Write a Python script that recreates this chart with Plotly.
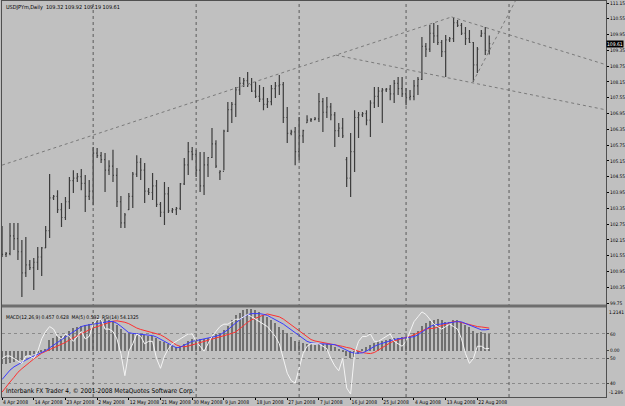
import datetime as dt
import plotly.graph_objects as go
from plotly.subplots import make_subplots

# ---- categories: trading days (Sun-Fri) from 4 Apr 2008 ----
start = dt.date(2008, 4, 4)
dates = []
d = start
while len(dates) < 124:
    if d.weekday() != 5:
        dates.append(d.strftime("%d %b %Y").lstrip("0"))
    d += dt.timedelta(days=1)

highs = [102.68,101.69,102.79,102.79,102.79,102.15,102.26,101.39,101.46,101.88,
         101.88,102.68,104.65,103.86,104.04,103.55,103.78,104.54,104.80,104.69,
         104.84,104.62,104.43,105.68,105.64,105.49,105.45,105.18,105.57,104.88,
         103.82,103.17,103.93,104.73,105.37,105.26,105.07,104.12,104.69,104.43,
         103.59,104.35,104.16,103.36,103.40,104.31,105.26,105.87,105.68,105.57,
         105.49,105.49,105.30,106.40,105.94,104.80,106.33,107.39,107.39,107.96,
         108.34,108.30,108.53,108.30,108.15,108.03,107.96,107.54,108.03,108.15,
         108.41,108.15,107.20,106.33,106.44,106.82,106.33,106.89,106.78,106.82,
         107.73,107.54,107.58,107.35,107.01,106.59,106.78,105.30,106.21,107.08,
         107.01,107.01,107.08,107.46,107.96,107.96,107.92,107.92,108.03,108.22,
         108.34,108.34,107.92,107.84,108.22,108.34,109.86,109.63,110.31,110.39,
         110.31,109.74,109.93,109.86,110.62,110.50,110.39,110.24,110.12,109.67,
         109.48,110.12,110.24,109.92]
lows = [101.50,101.50,101.57,101.77,101.39,99.98,100.74,101.01,100.25,101.01,
        100.78,101.84,102.22,103.67,103.17,102.64,102.91,103.32,103.93,104.35,
        104.04,103.21,103.67,103.47,105.26,105.07,103.97,104.62,104.35,103.40,
        102.60,102.60,103.29,103.36,104.54,104.43,103.55,103.86,103.67,103.40,
        103.02,102.72,103.17,103.17,103.10,103.29,104.24,104.62,105.18,104.54,
        103.97,103.86,104.54,105.26,104.88,104.43,104.80,106.25,106.59,106.82,
        107.65,107.96,107.96,107.77,107.54,107.39,107.08,107.16,107.27,107.54,
        107.65,106.59,105.83,106.13,104.99,105.18,105.83,106.59,106.63,106.70,
        106.63,106.25,106.78,106.70,105.68,106.06,106.02,104.16,103.78,104.73,
        106.02,106.82,106.51,106.06,107.16,107.20,106.59,107.77,107.46,107.35,
        107.65,107.58,107.27,107.46,107.46,107.65,108.22,109.10,109.29,109.63,
        109.55,109.10,108.34,109.67,109.67,110.24,109.93,109.55,109.63,108.15,
        108.49,109.86,109.17,109.19]
opens = [102.40,101.60,101.63,102.30,102.20,101.70,100.90,101.20,101.10,101.30,
         101.50,101.85,102.50,103.75,103.80,103.30,103.00,103.60,104.40,104.50,
         104.55,104.30,103.80,104.00,105.45,105.35,105.20,104.80,104.95,104.60,
         103.60,102.80,103.30,103.80,104.65,105.10,104.80,104.00,103.95,104.20,
         103.50,103.20,103.90,103.25,103.30,103.35,104.28,105.00,105.50,105.40,
         104.80,104.20,105.00,105.28,105.80,104.70,104.75,106.28,107.10,107.30,
         107.85,108.10,108.20,108.05,107.80,107.60,107.50,107.30,107.40,107.90,
         108.00,108.05,106.80,106.20,106.25,105.50,106.10,106.60,106.70,106.72,
         106.75,107.40,107.00,107.20,106.90,106.30,106.40,105.20,104.50,105.50,
         106.80,106.90,106.95,106.70,107.35,107.60,107.80,107.85,107.88,107.70,
         108.10,107.90,107.70,107.55,107.60,108.00,108.25,109.50,109.40,110.00,
         109.90,109.65,109.30,109.75,109.80,110.40,110.30,110.00,109.80,109.65,
         108.80,109.90,110.00,109.32]
closes = [101.60,101.63,102.30,102.20,101.70,100.90,101.20,101.10,101.30,101.50,
          101.85,102.50,103.75,103.80,103.30,103.00,103.60,104.40,104.50,104.55,
          104.30,103.80,104.00,105.45,105.35,105.20,104.80,104.95,104.60,103.60,
          102.80,103.10,103.80,104.65,105.10,104.80,104.00,103.95,104.20,103.50,
          103.20,103.90,103.25,103.30,103.35,104.28,105.00,105.50,105.40,104.80,
          104.20,105.00,105.28,105.80,104.95,104.75,106.28,107.10,107.30,107.85,
          108.10,108.20,108.05,107.80,107.60,107.50,107.30,107.40,107.90,108.00,
          108.05,106.80,106.20,106.25,105.50,106.10,106.30,106.70,106.72,106.75,
          107.40,107.00,107.20,106.90,106.30,106.40,106.10,104.50,105.50,106.80,
          106.90,106.95,106.70,107.35,107.60,107.80,107.85,107.88,107.70,108.10,
          107.90,107.70,107.55,107.60,108.00,108.25,109.50,109.40,110.00,109.90,
          109.65,109.30,109.75,109.80,110.40,110.30,110.00,109.80,109.65,108.80,
          109.40,110.00,109.35,109.61]

# ---- MACD window readings ----
macd_hist = [-0.38,-0.36,-0.33,-0.30,-0.28,-0.25,-0.15,-0.12,-0.10,-0.06,
             -0.02,0.05,0.30,0.36,0.40,0.42,0.45,0.55,0.62,0.66,
             0.70,0.72,0.74,0.80,0.86,0.89,0.88,0.86,0.82,0.72,
             0.60,0.50,0.48,0.47,0.48,0.47,0.44,0.42,0.40,0.34,
             0.28,0.24,0.18,0.14,0.10,0.12,0.20,0.28,0.32,0.33,
             0.32,0.33,0.36,0.42,0.46,0.50,0.58,0.70,0.85,0.98,
             1.06,1.12,1.16,1.15,1.12,1.08,1.00,0.94,0.86,0.78,
             0.66,0.58,0.48,0.38,0.28,0.25,0.22,0.20,0.18,0.17,
             0.20,0.20,0.18,0.16,0.10,0.04,-0.02,-0.15,-0.20,-0.18,
             -0.10,0.02,0.10,0.16,0.22,0.26,0.28,0.30,0.33,0.35,
             0.36,0.37,0.38,0.42,0.48,0.55,0.70,0.76,0.82,0.86,
             0.87,0.84,0.80,0.80,0.84,0.84,0.80,0.72,0.66,0.55,
             0.50,0.52,0.48,0.457]
macd_ma = [-0.80,-0.66,-0.54,-0.45,-0.38,-0.32,-0.26,-0.20,-0.15,-0.10,
           -0.06,0.00,0.08,0.16,0.24,0.32,0.38,0.45,0.52,0.60,
           0.67,0.70,0.72,0.74,0.76,0.78,0.80,0.81,0.81,0.76,
           0.68,0.58,0.50,0.48,0.47,0.46,0.45,0.44,0.42,0.38,
           0.32,0.26,0.20,0.13,0.08,0.10,0.15,0.22,0.26,0.28,
           0.30,0.32,0.34,0.37,0.40,0.44,0.50,0.58,0.68,0.78,
           0.86,0.94,1.00,1.03,1.04,1.03,1.01,0.98,0.92,0.85,
           0.80,0.74,0.66,0.56,0.48,0.40,0.32,0.26,0.22,0.20,
           0.19,0.19,0.18,0.18,0.17,0.12,0.06,0.01,-0.04,-0.07,
           -0.07,-0.06,-0.01,0.06,0.12,0.17,0.21,0.25,0.28,0.31,
           0.33,0.35,0.36,0.37,0.39,0.44,0.52,0.60,0.67,0.71,
           0.73,0.75,0.76,0.78,0.80,0.81,0.80,0.76,0.71,0.66,
           0.62,0.58,0.58,0.592]
macd_signal = [-1.15,-1.00,-0.87,-0.74,-0.60,-0.50,-0.40,-0.32,-0.23,-0.15,
               -0.07,-0.02,0.03,0.07,0.11,0.17,0.23,0.30,0.36,0.42,
               0.48,0.53,0.58,0.63,0.67,0.71,0.75,0.79,0.82,0.83,
               0.82,0.79,0.75,0.68,0.63,0.59,0.56,0.53,0.50,0.48,
               0.44,0.38,0.31,0.24,0.16,0.12,0.11,0.13,0.16,0.20,
               0.24,0.27,0.30,0.33,0.36,0.39,0.42,0.45,0.48,0.52,
               0.60,0.70,0.79,0.86,0.90,0.95,0.99,1.02,1.00,0.97,
               0.94,0.88,0.80,0.71,0.64,0.56,0.46,0.38,0.31,0.27,
               0.25,0.22,0.20,0.19,0.18,0.15,0.12,0.09,0.07,0.02,
               -0.02,-0.05,-0.07,-0.08,-0.05,0.02,0.09,0.16,0.22,0.27,
               0.31,0.35,0.37,0.39,0.44,0.50,0.56,0.60,0.62,0.62,
               0.66,0.70,0.74,0.78,0.81,0.81,0.78,0.76,0.72,0.69,
               0.67,0.66,0.64,0.628]
rsi = [50,51,51,50,49,48,51,51,50,53,
       58,61,63,62,59,58,60,59,57,59,
       61,58,59,64,66,66,62,62,61,58,
       52,43,53,56,60,59,56,57,57,50,
       46,51,54,56,57,58,59,60,60,57,
       55,53,56,59,61,63,64,64,65,66,
       66,67,68,67,66,65,64,63,61,59,
       56,50,44,41,40,46,52,55,56,56,
       56,55,54,50,47,45,50,38,35.5,52,
       57,59,59,60,57,57,58,59,60,57,
       56,55,57,61,65,67,69,68,66,64,
       63,62,63,64,63,62,58,52,48,50,
       55,55,54,54.13]

tick_labels = ["4 Apr 2008", "14 Apr 2008", "23 Apr 2008", "2 May 2008", "12 May 2008",
               "21 May 2008", "30 May 2008", "9 Jun 2008", "18 Jun 2008", "27 Jun 2008",
               "7 Jul 2008", "16 Jul 2008", "25 Jul 2008", "4 Aug 2008", "13 Aug 2008",
               "22 Aug 2008"]
separators = ["1 May 2008", "1 Jun 2008", "1 Jul 2008", "1 Aug 2008"]

# trendlines as (bar index, price) pairs
trend_lines = [
    [(0.0, 104.99), (113.5, 110.62)],
    [(84.3, 109.17), (152.8, 107.08)],
    [(113.5, 110.62), (152.8, 108.79)],
    [(118.9, 108.15), (129.6, 111.23)],
]

price_ticks = [99.75 + 0.6 * k for k in range(20)]

xi = list(range(len(dates)))
idx = {s: i for i, s in enumerate(dates)}

BG = "#c0c0c0"
FONT = "Liberation Sans Narrow, DejaVu Sans Condensed, Arial Narrow, Liberation Sans, sans-serif"
DOT = "#7a7a7a"

fig = make_subplots(rows=2, cols=1, shared_xaxes=True, vertical_spacing=0,
                    specs=[[{}], [{"secondary_y": True}]])

fig.add_trace(go.Ohlc(x=xi, open=opens, high=highs, low=lows, close=closes,
                      increasing_line_color="#3c3c3c", decreasing_line_color="#3c3c3c",
                      line_width=1.2, tickwidth=0.25, showlegend=False,
                      hoverinfo="skip"), row=1, col=1)

fig.add_trace(go.Bar(x=xi, y=macd_hist, marker_color="#707070", marker_line_width=0,
                     width=0.35, showlegend=False), row=2, col=1, secondary_y=False)
fig.add_trace(go.Scatter(x=xi, y=rsi, mode="lines", line=dict(color="#f4f4f4", width=1),
                         showlegend=False), row=2, col=1, secondary_y=True)
fig.add_trace(go.Scatter(x=xi, y=macd_signal, mode="lines", line=dict(color="#ff3030", width=1),
                         showlegend=False), row=2, col=1, secondary_y=False)
fig.add_trace(go.Scatter(x=xi, y=macd_ma, mode="lines", line=dict(color="#3a3aff", width=1),
                         showlegend=False), row=2, col=1, secondary_y=False)

for line in trend_lines:
    (x0, y0), (x1, y1) = line
    fig.add_shape(type="line", x0=x0, y0=y0, x1=x1, y1=y1, xref="x", yref="y",
                  line=dict(color=DOT, width=1, dash="dot"))

for s in separators:
    fig.add_shape(type="line", x0=idx[s], x1=idx[s], y0=0, y1=1, xref="x", yref="paper",
                  line=dict(color="#5a5a5a", width=1, dash="dot"))
fig.add_shape(type="line", x0=128, x1=128, y0=0, y1=1, xref="x", yref="paper",
              line=dict(color="#5a5a5a", width=1, dash="dot"))

# pane separator
fig.add_shape(type="line", x0=0, x1=1, y0=0.2298, y1=0.2298, xref="paper", yref="paper",
              line=dict(color="#6e6e6e", width=3))

fig.update_layout(
    width=625, height=406, margin=dict(l=2, r=19, t=1, b=9, autoexpand=False),
    paper_bgcolor=BG, plot_bgcolor=BG, font=dict(family=FONT, size=6, color="#000000"),
    bargap=0,
)
fig.update_xaxes(domain=[0.0, 1.0], range=[-0.02, 152.48], showgrid=False, zeroline=False,
                 showline=True, linecolor="#505050", mirror=True, automargin=False,
                 rangeslider_visible=False)
fig.update_xaxes(tickvals=[idx[t] for t in tick_labels], ticktext=tick_labels,
                 ticks="outside", ticklen=2, tickcolor="#000000", tickangle=0,
                 ticklabelposition="outside right", tickfont=dict(size=5, family=FONT),
                 row=2, col=1)
fig.update_xaxes(showticklabels=False, row=1, col=1)

fig.update_yaxes(domain=[0.2323, 1.0], range=[99.676, 111.226], side="right",
                 tickvals=price_ticks, ticktext=["%.2f" % v for v in price_ticks],
                 ticks="outside", ticklen=2, tickcolor="#000000", automargin=False,
                 showgrid=False, zeroline=False, showline=True, linecolor="#505050",
                 mirror=True, tickfont=dict(size=4.8, family=FONT), row=1, col=1)
fig.update_yaxes(domain=[0.0, 0.2273], range=[-1.286, 1.214], side="right",
                 tickvals=[0], ticktext=["0.00"], ticks="outside", ticklen=2,
                 showgrid=False, zeroline=False, showline=True, linecolor="#505050",
                 mirror=True, tickfont=dict(size=4.8, family=FONT), automargin=False,
                 row=2, col=1, secondary_y=False)
fig.update_yaxes(range=[34.3, 71.0], side="right", tickvals=[40, 50, 60],
                 ticktext=["40", "50", "60"], ticks="outside", ticklen=2, automargin=False,
                 showgrid=True, gridcolor="#8a8a8a", griddash="dot", gridwidth=1,
                 zeroline=False, showline=False, tickfont=dict(size=4.8, family=FONT),
                 row=2, col=1, secondary_y=True)

fig.add_annotation(text="USDJPYm,Daily  109.32 109.92 109.19 109.61", xref="paper", yref="paper",
                   x=0.003, y=0.998, xanchor="left", yanchor="top", showarrow=False,
                   font=dict(size=5.5, color="#000000"))
fig.add_annotation(text="MACD(12,26,9) 0.457 0.628  MA(5) 0.592  RSI(14) 54.1325",
                   xref="paper", yref="paper", x=0.003, y=0.215, xanchor="left", yanchor="top",
                   showarrow=False, font=dict(size=5, color="#000000"))
fig.add_annotation(text="Interbank FX Trader 4, © 2001-2008 MetaQuotes Software Corp.",
                   xref="paper", yref="paper", x=0.003, y=0.0, xanchor="left", yanchor="bottom",
                   showarrow=False, font=dict(size=6.5, color="#000000"))
fig.add_annotation(text="109.61", xref="paper", yref="y", x=1.0, y=closes[-1],
                   xanchor="left", yanchor="middle", showarrow=False,
                   bgcolor="#000000", font=dict(size=5, color="#ffffff"), borderpad=0)
fig.add_annotation(text="1.2141", xref="paper", yref="paper", x=1.0, y=0.226,
                   xanchor="left", yanchor="top", showarrow=False, xshift=1,
                   font=dict(size=4.8, color="#000000"))
fig.add_annotation(text="-1.286", xref="paper", yref="paper", x=1.0, y=0.0,
                   xanchor="left", yanchor="bottom", showarrow=False, xshift=1,
                   font=dict(size=4.8, color="#000000"))

fig.write_html("out.html")
